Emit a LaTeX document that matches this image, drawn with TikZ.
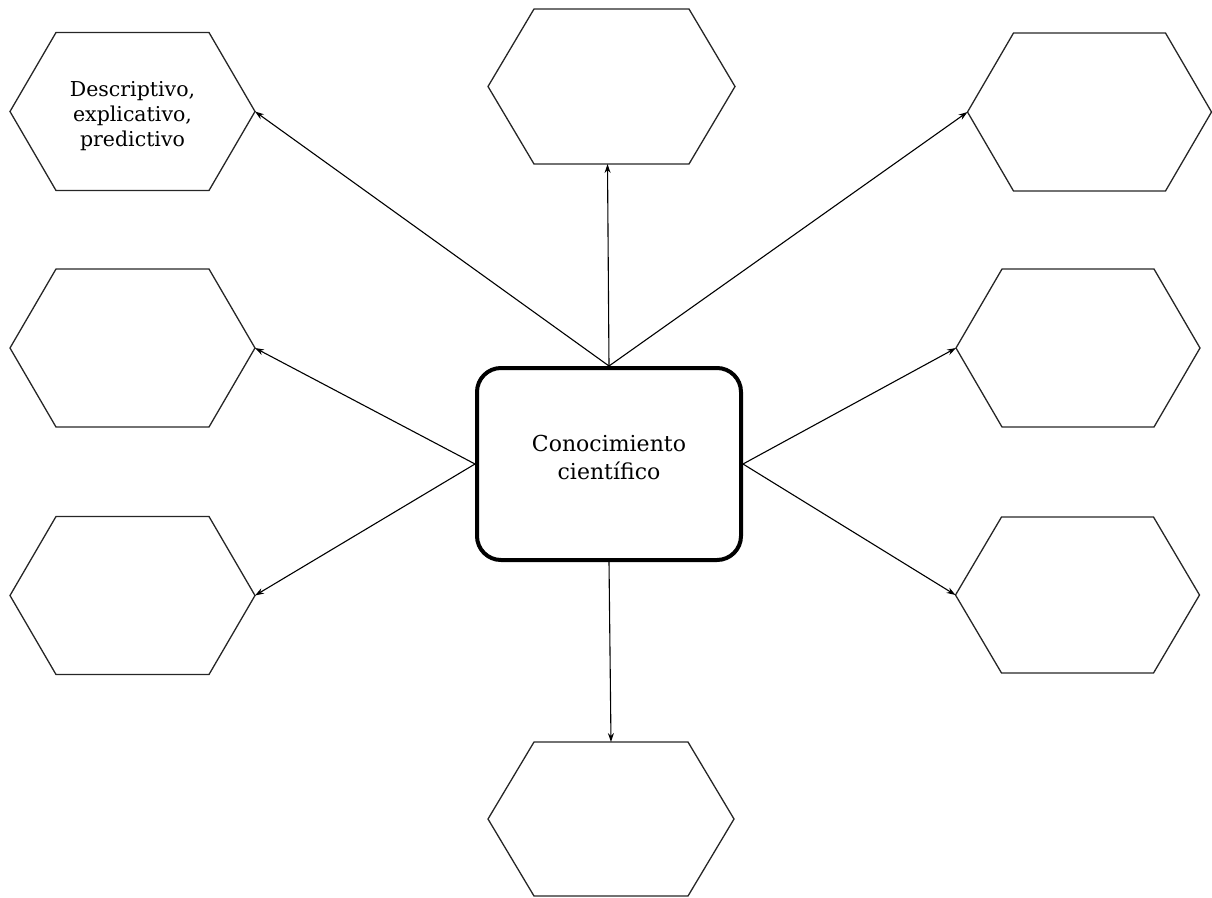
\documentclass[tikz,border=0pt]{standalone}
\usepackage{fontspec}
\setmainfont{DejaVu Serif}
\usetikzlibrary{arrows.meta}
\begin{document}
\begin{tikzpicture}[x=1pt,y=-1pt,
  hexa/.style={inner sep=0pt,outer sep=0pt,minimum width=245pt,minimum height=158pt},
  hextext/.style={align=center,inner sep=0pt,font=\fontsize{20.5}{25}\selectfont},
  link/.style={-{Stealth[length=9pt,width=6pt]},line width=1.1pt},
  hexline/.style={line width=1.3pt,draw=black!85,line join=miter},
  centerbox/.style={draw,line width=4pt,rounded corners=24pt,minimum width=264pt,minimum height=192pt,
    align=center,font=\fontsize{22}{28}\selectfont}]
\useasboundingbox (0,0) rectangle (1212,897);
\node[hexa] (tl) at (132.5,111.5) {};
\node[hexa,minimum width=247pt,minimum height=155pt] (tc) at (611.5,86.5) {};
\node[hexa,minimum width=244pt] (tr) at (1089.5,112) {};
\node[hexa] (ml) at (132.5,348) {};
\node[hexa] (bl) at (132.5,595.5) {};
\node[hexa,minimum width=244pt] (mr) at (1078,348) {};
\node[hexa,minimum width=244pt,minimum height=156pt] (br) at (1077.5,595) {};
\node[hexa,minimum width=246pt,minimum height=154pt] (bc) at (611,819) {};
\foreach \n in {tl,tc,tr,ml,bl,mr,br,bc}
  \draw[hexline] (\n.west) -- ([xshift=46pt]\n.north west) -- ([xshift=-46pt]\n.north east)
    -- (\n.east) -- ([xshift=-46pt]\n.south east) -- ([xshift=46pt]\n.south west) -- cycle;
\node[hextext] (tltext) at ([yshift=-5pt]tl.center) {Descriptivo,\\explicativo,\\predictivo};
\node[centerbox] (c) at (609,464) {Conocimiento\\científico\\[-14pt]\mbox{}};
\draw[link] (c.north) -- (tl.east);
\draw[link] (c.north) -- ([xshift=-4pt]tc.south);
\draw[link] (c.north) -- (tr.west);
\draw[link] (c.west) -- (ml.east);
\draw[link] (c.west) -- (bl.east);
\draw[link] (c.east) -- (mr.west);
\draw[link] (c.east) -- (br.west);
\draw[link] (c.south) -- (bc.north);
\end{tikzpicture}
\end{document}
